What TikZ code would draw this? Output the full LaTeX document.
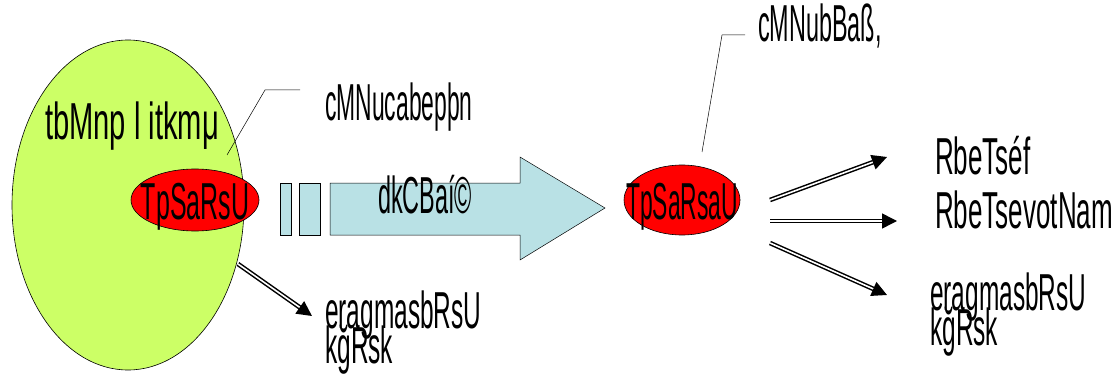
\documentclass[tikz,border=0pt]{standalone}
\usepackage{fontspec}
\setmainfont{Liberation Sans}
\usetikzlibrary{arrows.meta,shapes.geometric}
\definecolor{lime}{HTML}{CCFF66}
\definecolor{arrowblue}{HTML}{B9E1E5}
\newcommand{\gtxt}[2][0.47]{\scalebox{#1}[1]{\fontsize{52}{54}\selectfont #2}}
\tikzset{
  blob/.style={ellipse, draw=black, line width=0.6pt, inner sep=0pt},
  lbl/.style={inner sep=0pt, anchor=base west, align=left},
  dbl/.style={double=white, double distance=1.6pt, line width=1.5pt, -{Triangle[length=15pt,width=15pt]}},
  thin/.style={line width=0.5pt}
}
\begin{document}
\begin{tikzpicture}[x=1pt,y=-1pt]
\useasboundingbox (0,0) rectangle (1115,382);
% green ellipse
\node[blob, fill=lime, minimum width=232, minimum height=330] (green) at (128,205) {};
\node[lbl] (gl) at (45,140) {\gtxt[0.56]{tbMnp l itkmμ}};
% left red ellipse
\node[blob, fill=red, minimum width=128, minimum height=62] (redL) at (195,200) {};
\node[lbl, anchor=base] (redLt) at (195,219) {\gtxt[0.48]{TpSaRsU}};
% callout left
\coordinate (cL1) at (227,155);
\coordinate (cL2) at (265,90);
\coordinate (cL3) at (300,90);
\draw[thin] (cL1) -- (cL2) -- (cL3);
\node[lbl] (callL) at (325,121) {\gtxt[0.44]{cMNucabepþn}};
% big arrow
\node[draw, thin, fill=arrowblue, minimum width=11, minimum height=52, inner sep=0pt] (r1) at (285.5,209) {};
\node[draw, thin, fill=arrowblue, minimum width=21, minimum height=52, inner sep=0pt] (r2) at (309.5,209) {};
\draw[thin, fill=arrowblue] (330,183) -- (520,183) -- (520,157) -- (605,208) -- (520,260) -- (520,235) -- (330,235) -- cycle;
\node[lbl] (arrl) at (378,213) {\gtxt[0.45]{dkCBaí©}};
% right red ellipse
\node[blob, fill=red, minimum width=116, minimum height=70] (redR) at (682,200) {};
\node[lbl, anchor=base] (redRt) at (682,219) {\gtxt[0.44]{TpSaRsaU}};
% callout right
\coordinate (cR1) at (702,152);
\coordinate (cR2) at (722,35);
\coordinate (cR3) at (745,35);
\draw[thin] (cR1) -- (cR2) -- (cR3);
\node[lbl] (callR) at (758,42) {\gtxt[0.45]{cMNubBaß,}};
% arrows
\coordinate (a1s) at (770,200); \coordinate (a1e) at (887,157);
\coordinate (a2s) at (770,221); \coordinate (a2e) at (897,221);
\coordinate (a3s) at (770,243); \coordinate (a3e) at (887,295);
\coordinate (a0s) at (238,264); \coordinate (a0e) at (312,316);
\draw[dbl] (a1s) -- (a1e);
\draw[dbl] (a2s) -- (a2e);
\draw[dbl] (a3s) -- (a3e);
\draw[dbl] (a0s) -- (a0e);
% right labels
\node[lbl] (t1) at (935,175) {\gtxt[0.5]{RbeTséf}};
\node[lbl] (t2) at (935,228) {\gtxt[0.5]{RbeTsevotNam}};
\node[lbl] (t3a) at (930,310) {\gtxt{eragmasbRsU}};
\node[lbl] (t3b) at (930,345) {\gtxt{kğRsk}};
\node[lbl] (t4a) at (325,328) {\gtxt{eragmasbRsU}};
\node[lbl] (t4b) at (325,363) {\gtxt{kğRsk}};
\end{tikzpicture}
\end{document}
